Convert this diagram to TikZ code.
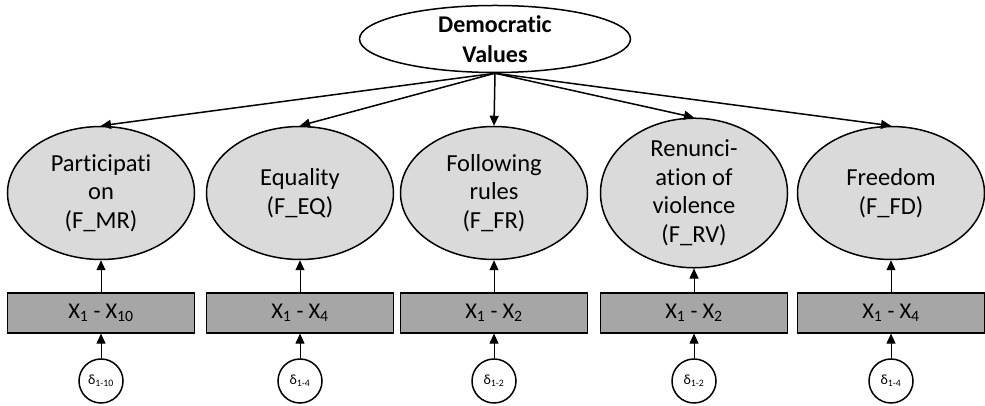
\documentclass[tikz,border=0pt]{standalone}
\usepackage{fontspec}
\setmainfont{Carlito}[Ligatures=NoCommon]
\usetikzlibrary{arrows.meta,shapes.geometric}
\definecolor{ink}     {HTML}{000000}
\definecolor{factfill}{HTML}{DADADA}
\definecolor{itemfill}{HTML}{A6A6A6}

\begin{document}
\begin{tikzpicture}[x=1pt,y=1pt,
  latent/.style={ellipse, draw=ink, line width=1.5pt, fill=factfill, inner sep=0pt,
    minimum width=187pt, minimum height=133pt, align=center,
    font=\fontsize{24.5}{28.5}\selectfont},
  itembox/.style={rectangle, draw=ink, line width=1.2pt, fill=itemfill, inner sep=0pt,
    minimum width=187pt, minimum height=40pt, font=\fontsize{22.5}{26}\selectfont},
  errc/.style={circle, draw=ink, line width=1.5pt, fill=white, inner sep=0pt,
    minimum size=44pt, font=\fontsize{14}{16}\selectfont},
  load/.style={-{Triangle[length=10pt,width=9pt]}, line width=1.5pt, draw=ink},
  meas/.style={-{Triangle[length=10pt,width=9pt]}, line width=1pt, draw=ink}]
  \useasboundingbox (0,0) rectangle (985,406);
  % second order factor
  \node[ellipse, draw=ink, line width=1.5pt, fill=white, inner sep=0pt,
    minimum width=271pt, minimum height=67pt, align=center,
    font=\fontsize{24}{30}\selectfont\bfseries] (dv) at (495,367) {Democratic\\Values};
  % first order factors, indicators, errors
  \foreach \nm/\x/\lab/\items/\err in {
      mr/101/{Participati\\on\\(F\_MR)}/{X\textsubscript{1} - X\textsubscript{10}}/{1-10},
      eq/300/{Equality\\(F\_EQ)}/{X\textsubscript{1} - X\textsubscript{4}}/{1-4},
      fr/494/{Following\\rules\\(F\_FR)}/{X\textsubscript{1} - X\textsubscript{2}}/{1-2},
      rv/694/{Renunci-\\ation of\\violence\\(F\_RV)}/{X\textsubscript{1} - X\textsubscript{2}}/{1-2},
      fd/891/{Freedom\\(F\_FD)}/{X\textsubscript{1} - X\textsubscript{4}}/{1-4}}{
    \node[latent] (\nm) at (\x,213) {\lab};
    \node[itembox] (\nm-x) at (\x,93) {\items};
    \node[errc] (\nm-d) at (\x,25) {δ\textsubscript{\err}};
    \draw[load] (dv.south) -- (\nm.north);
    \draw[meas] (\nm-x.north) -- (\nm.south);
    \draw[meas] (\nm-d.north) -- (\nm-x.south);
  }
\end{tikzpicture}
\end{document}
